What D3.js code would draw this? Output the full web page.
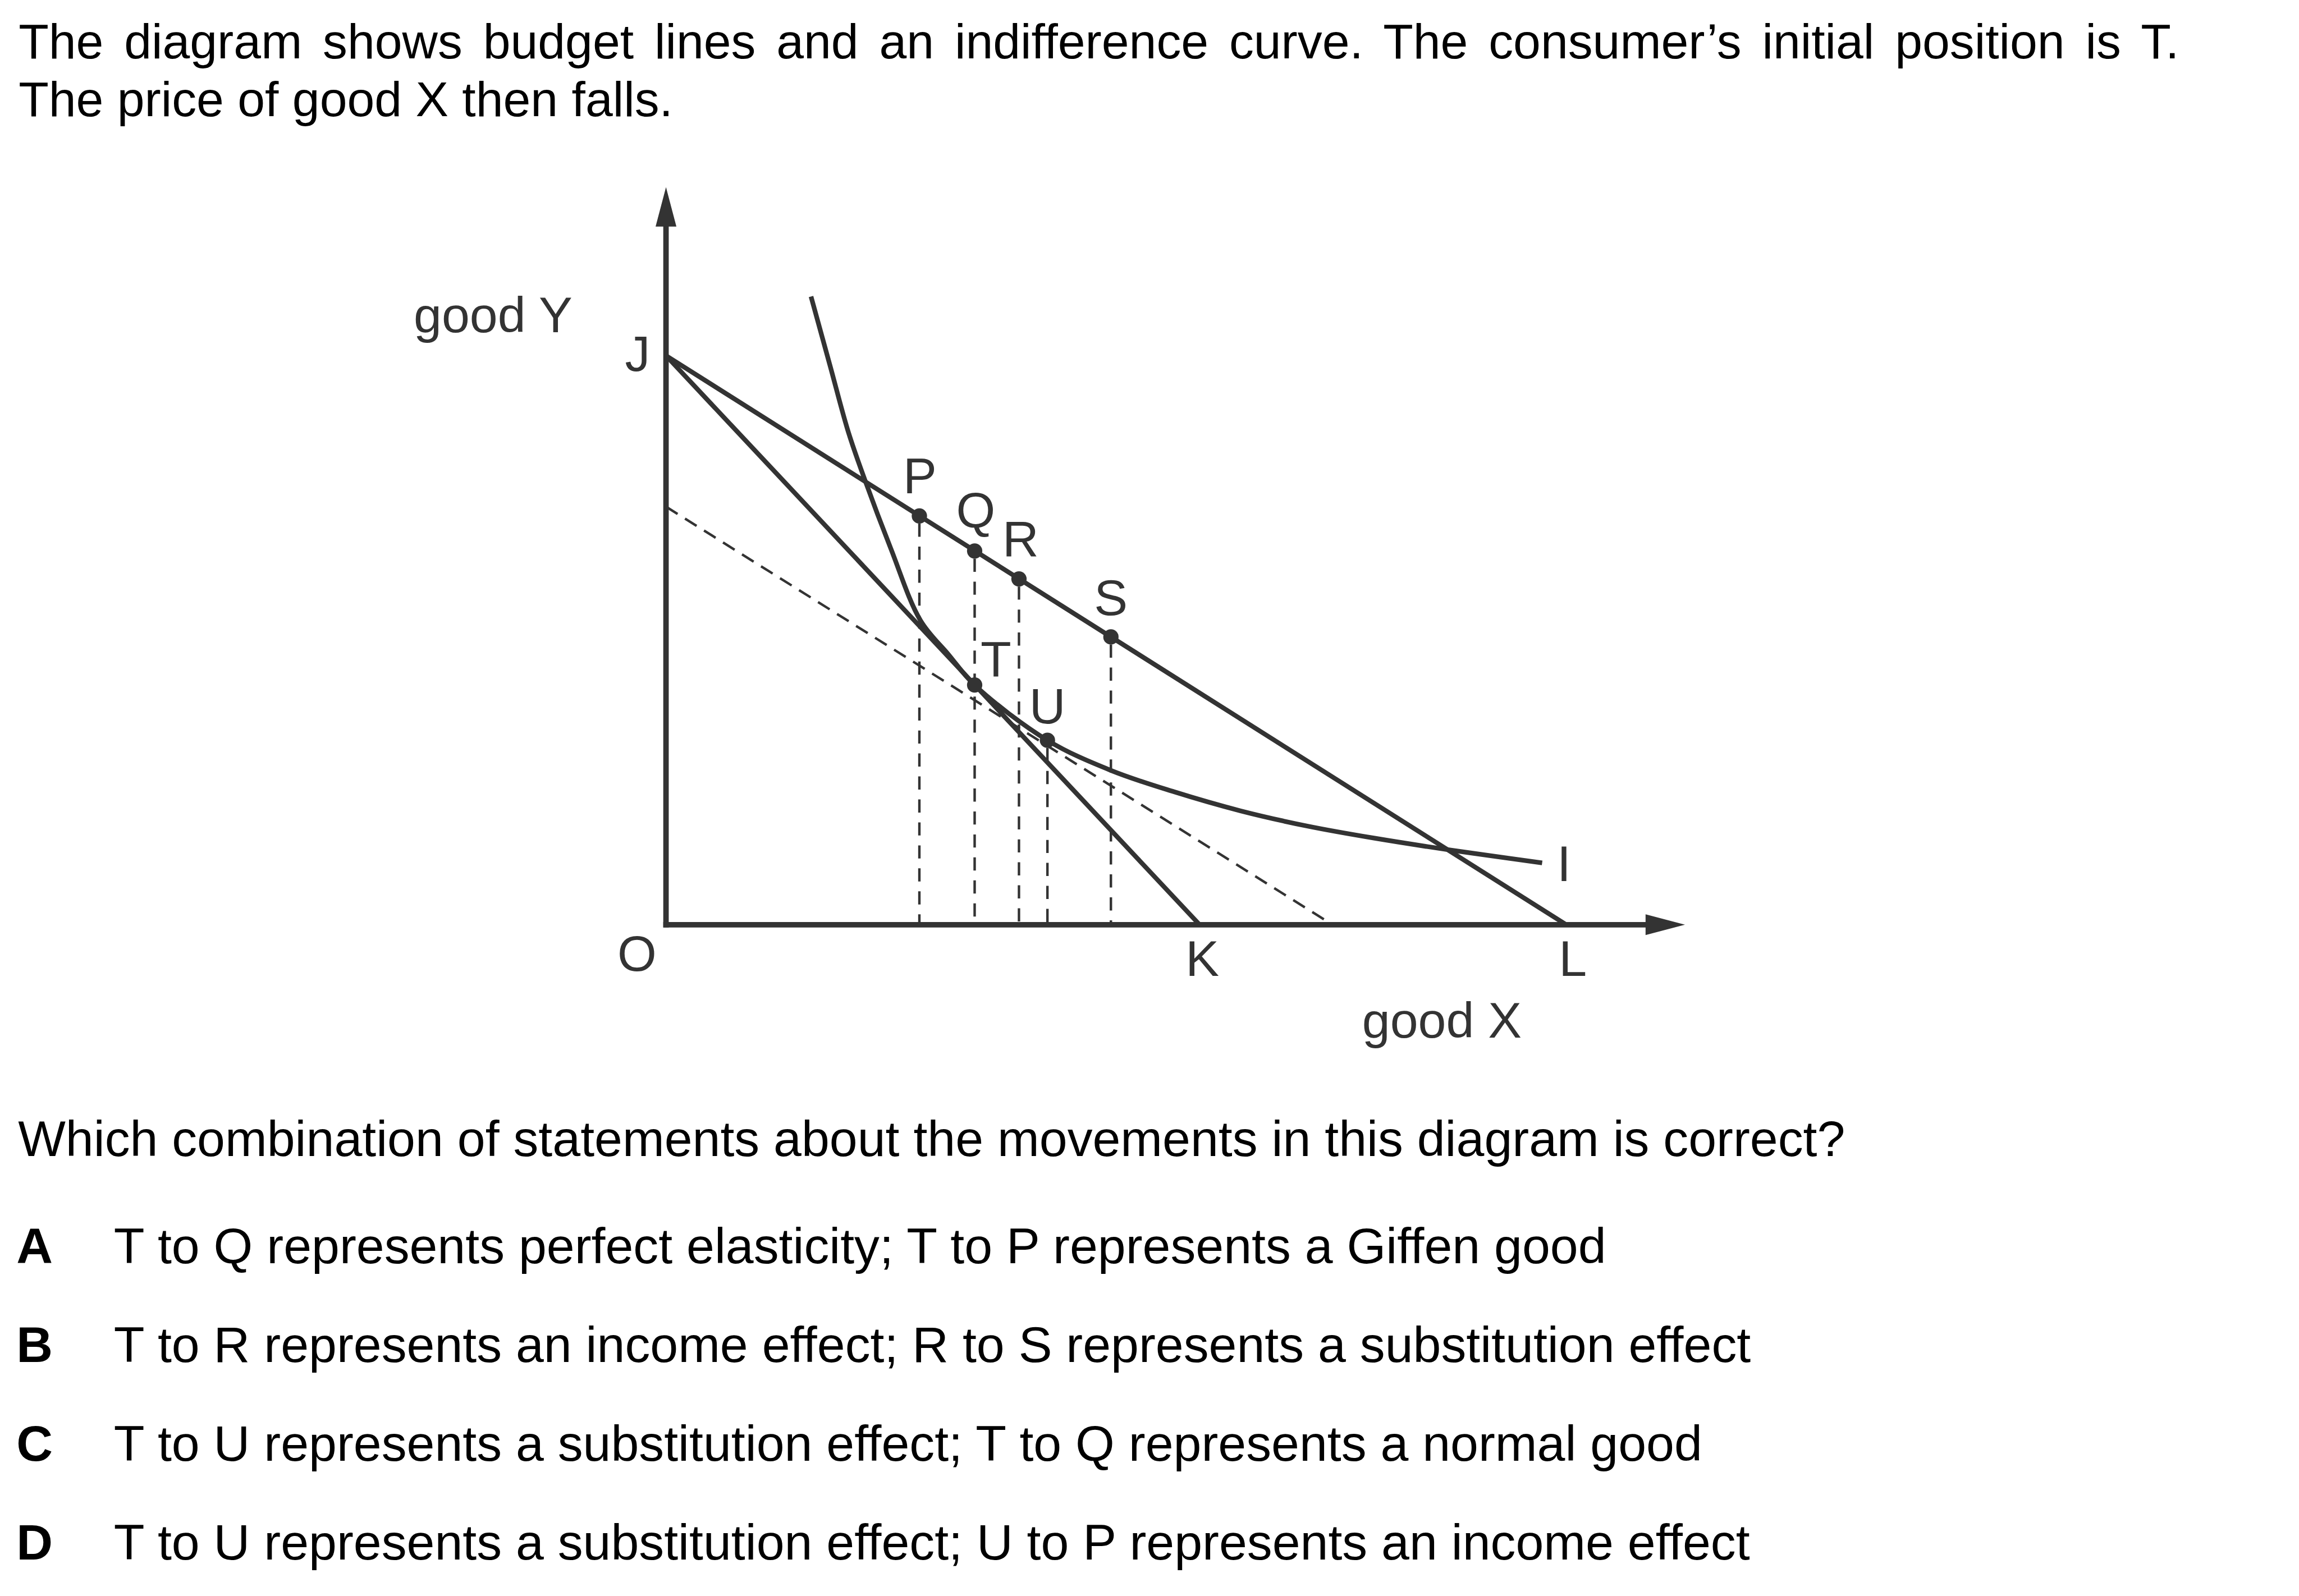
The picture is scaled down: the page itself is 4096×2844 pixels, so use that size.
<!DOCTYPE html>
<html>
<head>
<meta charset="utf-8">
<script src="https://cdn.jsdelivr.net/npm/d3@7"></script>
<style>
  html, body { margin: 0; padding: 0; background: #ffffff; }
  svg { display: block; }
</style>
</head>
<body>
<script>
// ---------------- DATA ----------------
// Budget lines (good X, good Y) in arbitrary quantity units
const budgetJK = [[0, 10.40], [9.75, 0]];     // original budget line J-K
const budgetJL = [[0, 10.40], [16.45, 0]];    // new budget line J-L (price of X falls)
const compensatedLine = [[0, 7.64], [12.18, 0]]; // dashed line parallel to J-L

// Indifference curve I
const curveX = [2.65, 3.00, 3.33, 3.63, 4.11, 4.65, 5.16, 5.64, 6.97, 8.13, 9.28, 10.50, 11.73, 12.95, 14.36, 16.01];
const curveY = [11.48, 10.21, 9.01, 8.14, 6.87, 5.56, 4.94, 4.38, 3.37, 2.82, 2.43, 2.08, 1.80, 1.58, 1.36, 1.13];

// Labelled points
const pointNames = ["P", "Q", "R", "S", "T", "U"];
const pointX = [4.63, 5.64, 6.45, 8.13, 5.64, 6.97];
const pointY = [7.47, 6.83, 6.32, 5.26, 4.38, 3.37];
const dropNames = ["P", "Q", "R", "S", "U"]; // dashed verticals to the X axis

// Axis extents
const xAxisMax = 18.62;
const yAxisMax = 13.48;

// Texts
const titleLines = [
  "The diagram shows budget lines and an indifference curve. The consumer\u2019s initial position is T.",
  "The price of good X then falls."
];
const questionText = "Which combination of statements about the movements in this diagram is correct?";
const optionLetters = ["A", "B", "C", "D"];
const optionTexts = [
  "T to Q represents perfect elasticity; T to P represents a Giffen good",
  "T to R represents an income effect; R to S represents a substitution effect",
  "T to U represents a substitution effect; T to Q represents a normal good",
  "T to U represents a substitution effect; U to P represents an income effect"
];

// ---------------- LAYOUT ----------------
const W = 4096, H = 2844, S = 0.975;
const FONT = "'Liberation Sans', Arial, Helvetica, sans-serif";
const INK = "#333333";

const svg = d3.select("body").append("svg")
  .attr("width", W).attr("height", H)
  .attr("viewBox", `0 0 ${W} ${H}`);
svg.append("rect").attr("width", W).attr("height", H).attr("fill", "#fff");
const g = svg.append("g").attr("transform", `scale(${S})`);

const x = d3.scaleLinear().domain([0, 20]).range([1217, 3217]);
const y = d3.scaleLinear().domain([0, 14]).range([1690, 290]);

// ---- Title text ----
const titleG = g.append("g").attr("font-family", FONT).attr("fill", "#000").attr("font-size", 90);
const t1 = titleG.append("text").attr("x", 34).attr("y", 107).text(titleLines[0]);
titleG.append("text").attr("x", 34).attr("y", 212).text(titleLines[1]);
// line 1 is justified in the original: widen the word spacing to the measured width
(function () {
  const natural = t1.node().getComputedTextLength();
  const spaces = (titleLines[0].match(/ /g) || []).length;
  const target = 3948;
  const ws = (target - natural) / spaces;
  if (ws > 0 && ws < 40) t1.attr("word-spacing", ws);
})();

// ---- Diagram ----
const dg = g.append("g");
const line = d3.line().x(d => x(d[0])).y(d => y(d[1]));

// dashed verticals
dropNames.forEach(n => {
  const i = pointNames.indexOf(n);
  dg.append("line")
    .attr("x1", x(pointX[i])).attr("x2", x(pointX[i]))
    .attr("y1", y(pointY[i]) + 14).attr("y2", y(0))
    .attr("stroke", INK).attr("stroke-width", 4.5)
    .attr("stroke-dasharray", "24,18");
});

// dashed compensated budget line
dg.append("path").attr("d", line(compensatedLine))
  .attr("fill", "none").attr("stroke", INK).attr("stroke-width", 4.5)
  .attr("stroke-dasharray", "25,16");

// budget lines
[budgetJK, budgetJL].forEach(b => {
  dg.append("path").attr("d", line(b))
    .attr("fill", "none").attr("stroke", INK).attr("stroke-width", 8.5)
    .attr("stroke-linecap", "butt");
});

// indifference curve
const curvePts = curveX.map((v, i) => [v, curveY[i]]);
dg.append("path")
  .attr("d", d3.line().x(d => x(d[0])).y(d => y(d[1])).curve(d3.curveCatmullRom.alpha(0.5))(curvePts))
  .attr("fill", "none").attr("stroke", INK).attr("stroke-width", 8.5);

// axes with arrowheads
const axW = 10;
const xTip = x(xAxisMax), yTip = y(yAxisMax);
const arrowLen = 72, arrowHalf = 19;
dg.append("line")
  .attr("x1", x(0) - axW / 2).attr("x2", xTip - arrowLen + 2)
  .attr("y1", y(0)).attr("y2", y(0))
  .attr("stroke", INK).attr("stroke-width", axW);
dg.append("line")
  .attr("x1", x(0)).attr("x2", x(0))
  .attr("y1", y(0) + axW / 2).attr("y2", yTip + arrowLen - 2)
  .attr("stroke", INK).attr("stroke-width", axW);
dg.append("path")
  .attr("d", `M${xTip},${y(0)} L${xTip - arrowLen},${y(0) - arrowHalf} L${xTip - arrowLen},${y(0) + arrowHalf} Z`)
  .attr("fill", INK);
dg.append("path")
  .attr("d", `M${x(0)},${yTip} L${x(0) - arrowHalf},${yTip + arrowLen} L${x(0) + arrowHalf},${yTip + arrowLen} Z`)
  .attr("fill", INK);

// dots
pointNames.forEach((n, i) => {
  dg.append("circle").attr("cx", x(pointX[i])).attr("cy", y(pointY[i])).attr("r", 14).attr("fill", INK);
});

// point labels
const labelOffsets = { P: [1, -41], Q: [2, -43], R: [3, -42], S: [0, -40], T: [39, -15], U: [0, -31] };
const lg = dg.append("g").attr("font-family", FONT).attr("font-size", 92).attr("fill", INK);
pointNames.forEach((n, i) => {
  const o = labelOffsets[n];
  lg.append("text").attr("text-anchor", "middle")
    .attr("x", x(pointX[i]) + o[0]).attr("y", y(pointY[i]) + o[1]).text(n);
});

// axis / line labels
lg.append("text").attr("text-anchor", "middle").attr("x", x(0) - 52).attr("y", y(budgetJK[0][1]) + 28).text("J");
lg.append("text").attr("text-anchor", "middle").attr("x", x(0) - 53).attr("y", y(0) + 84).text("O");
lg.append("text").attr("text-anchor", "middle").attr("x", x(budgetJK[1][0]) + 5).attr("y", y(0) + 94).text("K");
lg.append("text").attr("text-anchor", "middle").attr("x", x(budgetJL[1][0]) + 12).attr("y", y(0) + 94).text("L");
lg.append("text").attr("text-anchor", "middle").attr("x", x(curveX[curveX.length - 1]) + 40).attr("y", y(curveY[curveY.length - 1]) + 33).text("I");
lg.append("text").attr("x", 756).attr("y", 607).text("good Y");
lg.append("text").attr("x", 2489).attr("y", 1896).text("good X");

// ---- Question ----
const qg = g.append("g").attr("font-family", FONT).attr("fill", "#000").attr("font-size", 92);
qg.append("text").attr("x", 33).attr("y", 2113).text(questionText);
const optBase = [2309, 2489, 2670, 2850];
optionLetters.forEach((L, i) => {
  qg.append("text").attr("x", 30).attr("y", optBase[i]).attr("font-weight", "bold").text(L);
  qg.append("text").attr("x", 208).attr("y", optBase[i]).text(optionTexts[i]);
});
</script>
</body>
</html>
